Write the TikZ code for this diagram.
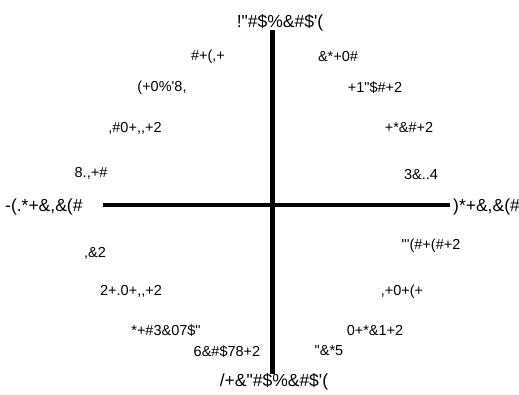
\documentclass[tikz,border=0pt]{standalone}
\usepackage{fontspec}
\newfontfamily\lsans{Liberation Sans}
\begin{document}
\begin{tikzpicture}[x=1pt,y=-1pt,
  lbl/.style={font=\lsans\fontsize{14.5}{17}\selectfont, inner sep=0pt, anchor=base},
  axlbl/.style={font=\lsans\fontsize{17.5}{21}\selectfont, inner sep=0pt, anchor=base},
  axis/.style={line width=4.5pt, black}]
\useasboundingbox (0,0) rectangle (519,394);
% axes
\coordinate (vt) at (272.5,30);
\coordinate (vb) at (272.5,374);
\coordinate (hl) at (103,205);
\coordinate (hr) at (450,205);
\draw[axis] (vt) -- (vb);
\draw[axis] (hl) -- (hr);
% axis labels
\node[axlbl] (top) at (280,27) {!"\#\$\%\&\#\$'(};
\node[axlbl] (bot) at (274,386) {/+\&"\#\$\%\&\#\$'(};
\node[axlbl, anchor=base west] (left) at (5,211) {-(.*+\&,\&(\#};
\node[axlbl, anchor=base west] (right) at (453,211) {)*+\&,\&(\#};
% quadrant labels
\node[lbl] (a1) at (208,60.5) {\#+(,+};
\node[lbl] (a2) at (162,91) {(+0\%'8,};
\node[lbl] (a3) at (135,132.5) {,\#0+,,+2};
\node[lbl] (a4) at (91,177.5) {8.,+\#};
\node[lbl] (b1) at (338,61) {\&*+0\#};
\node[lbl] (b2) at (375,92.5) {+1"\$\#+2};
\node[lbl] (b3) at (409,132.5) {+*\&\#+2};
\node[lbl] (b4) at (421,179) {3\&..4};
\node[lbl] (c1) at (95,257) {,\&2};
\node[lbl] (c2) at (131,295.5) {2+.0+,,+2};
\node[lbl] (c3) at (166,335.5) {*+\#3\&07\$"};
\node[lbl] (c4) at (227,356.5) {6\&\#\$78+2};
\node[lbl] (d1) at (431,249.5) {"'(\#+(\#+2};
\node[lbl] (d2) at (402,295.5) {,+0+(+};
\node[lbl] (d3) at (375,335.5) {0+*\&1+2};
\node[lbl] (d4) at (329,355.5) {"\&*5};
\end{tikzpicture}
\end{document}
